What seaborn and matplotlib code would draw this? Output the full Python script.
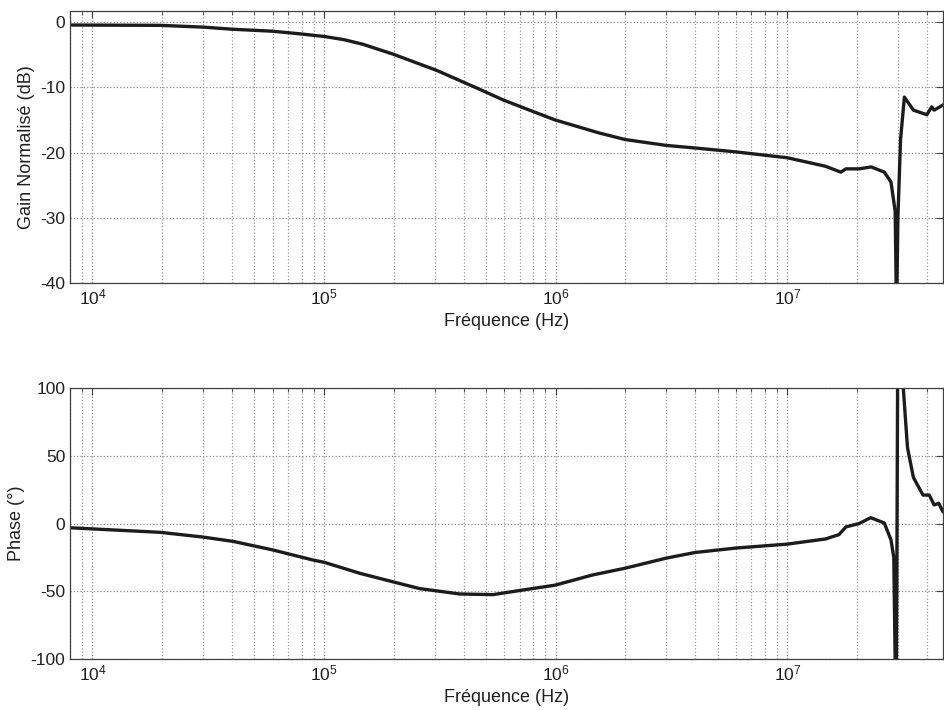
import numpy as np
import pandas as pd
import seaborn as sns
import matplotlib
matplotlib.use("Agg")
import matplotlib.pyplot as plt
from matplotlib.ticker import LogLocator, MultipleLocator, NullFormatter

# gain curve
gain_freq = [8.15e3, 1.96e4, 3.0e4, 4.04e4, 6.0e4, 7.86e4, 1.0e5, 1.22e5, 1.47e5, 1.98e5, 3.06e5,
             4.69e5, 5.9e5, 7.45e5, 9.93e5, 1.54e6, 1.99e6, 2.99e6, 3.99e6, 6.0e6, 1.0e7,
             1.46e7, 1.70e7, 1.79e7, 2.04e7, 2.3e7, 2.62e7, 2.8e7, 2.92e7, 2.96e7, 3.0e7,
             3.08e7, 3.2e7, 3.5e7, 4.0e7, 4.2e7, 4.3e7, 4.7e7]
gain_db = [-0.45, -0.5, -0.77, -1.1, -1.4, -1.8, -2.2, -2.7, -3.4, -4.9, -7.4,
           -10.3, -11.9, -13.3, -15.0, -17.0, -18.0, -18.9, -19.3, -19.9, -20.8,
           -22.1, -23.0, -22.5, -22.5, -22.2, -23.0, -24.5, -29.0, -45.0, -30.0,
           -18.0, -11.5, -13.5, -14.2, -13.0, -13.5, -12.7]

# phase curve
phase_freq = [8.15e3, 1.96e4, 3.0e4, 4.05e4, 6.0e4, 8.98e4, 1.0e5, 1.43e5, 1.98e5, 2.58e5,
              3.85e5, 5.35e5, 7.45e5, 9.93e5, 1.44e6, 1.99e6, 2.99e6, 3.99e6, 6.0e6, 1.0e7,
              1.46e7, 1.67e7, 1.79e7, 2.04e7, 2.29e7, 2.62e7, 2.8e7, 2.88e7, 2.95e7, 3.0e7,
              3.15e7, 3.3e7, 3.5e7, 3.85e7, 4.1e7, 4.3e7, 4.5e7, 4.7e7]
phase_deg = [-3.2, -6.5, -10.0, -13.2, -19.5, -27.0, -28.6, -36.8, -43.0, -48.0,
             -52.0, -52.5, -48.7, -45.5, -38.0, -33.0, -25.6, -21.4, -18.1, -15.2,
             -11.4, -8.2, -2.5, 0.0, 4.3, 0.4, -12.0, -25.0, -160.0, 160.0,
             105.0, 56.0, 34.0, 21.0, 21.0, 13.7, 15.0, 8.5]

xlabel = "Fréquence (Hz)"

sns.set_style("white")
plt.rcParams['font.family'] = ['Liberation Sans', 'DejaVu Sans']
plt.rcParams['mathtext.fontset'] = 'custom'
plt.rcParams['mathtext.rm'] = 'Liberation Sans'
plt.rcParams['mathtext.it'] = 'Liberation Sans'
plt.rcParams['axes.unicode_minus'] = False

fig = plt.figure(figsize=(9.44, 7.10), dpi=100)
ax1 = fig.add_axes([0.0742, 0.6014, 0.9248, 0.3831])
ax2 = fig.add_axes([0.0742, 0.0718, 0.9248, 0.3817])

gain_df = pd.DataFrame({"f": gain_freq, "g": gain_db})
phase_df = pd.DataFrame({"f": phase_freq, "p": phase_deg})

line_col = "#1c1c1c"
sns.lineplot(data=gain_df, x="f", y="g", ax=ax1, color=line_col, linewidth=2.4, estimator=None)
sns.lineplot(data=phase_df, x="f", y="p", ax=ax2, color=line_col, linewidth=2.4, estimator=None)


def prepare_axis(ax, ylim, ystep, ylabel):
    ax.set_xscale("log")
    ax.set_xlim(8.0e3, 4.7e7)
    ax.set_ylim(*ylim)
    ax.yaxis.set_major_locator(MultipleLocator(ystep))
    ax.xaxis.set_major_locator(LogLocator(base=10))
    ax.xaxis.set_minor_locator(LogLocator(base=10, subs=np.arange(2, 10)))
    ax.xaxis.set_minor_formatter(NullFormatter())
    ax.grid(True, which="major", linestyle=":", color="#8a8a8a", linewidth=0.9)
    ax.grid(True, which="minor", axis="x", linestyle=":", color="#9a9a9a", linewidth=0.9)
    ax.tick_params(which="both", direction="in", top=True, right=True,
                   color="#404040", labelsize=12.5, labelcolor="#202020")
    ax.tick_params(which="major", length=5)
    ax.tick_params(which="minor", length=3)
    for s in ax.spines.values():
        s.set_color("#404040")
        s.set_linewidth(0.9)
    ax.set_xlabel(xlabel, fontsize=13, color="#202020", labelpad=4)
    ax.set_ylabel(ylabel, fontsize=13, color="#202020", labelpad=4)


prepare_axis(ax1, (-40, 1.7), 10, "Gain Normalisé (dB)")
prepare_axis(ax2, (-100, 100), 50, "Phase (°)")

fig.savefig("out.png", dpi=100)
